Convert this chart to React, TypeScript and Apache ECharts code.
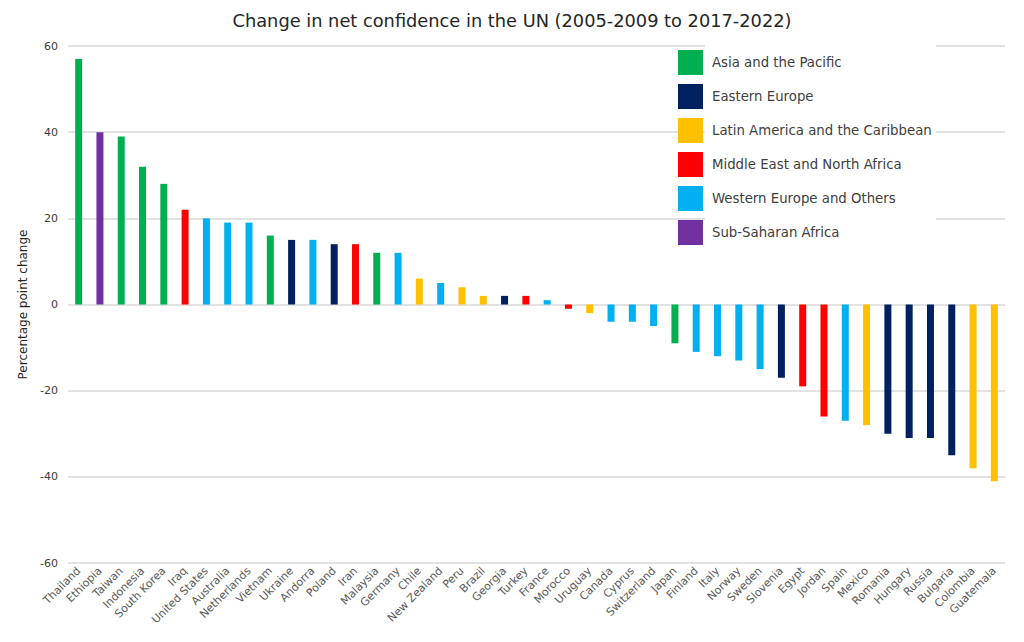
import React, { useEffect, useRef } from "react";
import * as echarts from "echarts";

const countries = [
  "Thailand", "Ethiopia", "Taiwan", "Indonesia", "South Korea", "Iraq", "United States", "Australia",
  "Netherlands", "Vietnam", "Ukraine", "Andorra", "Poland", "Iran", "Malaysia", "Germany", "Chile",
  "New Zealand", "Peru", "Brazil", "Georgia", "Turkey", "France", "Morocco", "Uruguay", "Canada",
  "Cyprus", "Switzerland", "Japan", "Finland", "Italy", "Norway", "Sweden", "Slovenia", "Egypt",
  "Jordan", "Spain", "Mexico", "Romania", "Hungary", "Russia", "Bulgaria", "Colombia", "Guatemala",
];

const values = [
  57, 40, 39, 32, 28, 22, 20, 19, 19, 16, 15, 15, 14, 14, 12, 12, 6, 5, 4, 2, 2, 2, 1, -1, -2, -4,
  -4, -5, -9, -11, -12, -13, -15, -17, -19, -26, -27, -28, -30, -31, -31, -35, -38, -41,
];

// region index per country (index into regions)
const regionOf = [
  0, 5, 0, 0, 0, 3, 4, 4, 4, 0, 1, 4, 1, 3, 0, 4, 2, 4, 2, 2, 1, 3, 4, 3, 2, 4,
  4, 4, 0, 4, 4, 4, 4, 1, 3, 3, 4, 2, 1, 1, 1, 1, 2, 2,
];

const regions = [
  "Asia and the Pacific",
  "Eastern Europe",
  "Latin America and the Caribbean",
  "Middle East and North Africa",
  "Western Europe and Others",
  "Sub-Saharan Africa",
];

const regionColors = ["#00b050", "#002060", "#ffc000", "#ff0000", "#00b0f0", "#7030a0"];

const yTicks = { min: -60, max: 60, interval: 20 };

const FONT = "DejaVu Sans";

export default function App() {
  const ref = useRef<HTMLDivElement>(null);
  useEffect(() => {
    if (!ref.current) return;
    const chart = echarts.init(ref.current, null, { renderer: "svg" });
    const series = regions.map((r, ri) => ({
      name: r,
      type: "bar",
      stack: "all",
      barWidth: 7,
      itemStyle: { color: regionColors[ri] },
      data: values.map((v, i) => (regionOf[i] === ri ? v : "-")),
    }));
    chart.setOption({
      animation: false,
      backgroundColor: "#ffffff",
      textStyle: { fontFamily: FONT },
      title: {
        text: "Change in net confidence in the UN (2005-2009 to 2017-2022)",
        left: "center",
        top: 6,
        textStyle: { fontFamily: FONT, fontSize: 17.8, fontWeight: "normal", color: "#262626" },
      },
      graphic: [
        {
          type: "rect",
          z: 1,
          shape: { x: 705, y: 40, width: 231, height: 212 },
          style: { fill: "#ffffff" },
        },
      ],
      legend: {
        orient: "vertical",
        left: 678,
        top: 50,
        icon: "rect",
        itemWidth: 25,
        itemHeight: 25,
        itemGap: 9,
        padding: 0,
        z: 5,
        textStyle: { fontFamily: FONT, fontSize: 13.3, color: "#404040", padding: [0, 0, 0, 4] },
        data: regions,
      },
      grid: { left: 68, right: 19, top: 46, bottom: 79 },
      xAxis: {
        type: "category",
        data: countries,
        axisLine: { show: false, onZero: false },
        axisTick: { show: false },
        axisLabel: {
          rotate: 45,
          interval: 0,
          fontSize: 11,
          color: "#595959",
          fontFamily: FONT,
          margin: 6,
        },
      },
      yAxis: {
        type: "value",
        min: yTicks.min,
        max: yTicks.max,
        interval: yTicks.interval,
        name: "Percentage point change",
        nameLocation: "middle",
        nameGap: 28,
        nameTextStyle: { fontFamily: FONT, fontSize: 12, color: "#262626" },
        axisLine: { show: false },
        axisTick: { show: false },
        axisLabel: { fontSize: 11, color: "#404040", fontFamily: FONT, margin: 10 },
        splitLine: { lineStyle: { color: "#d9d9d9", width: 1.5 } },
      },
      series,
    });
    return () => chart.dispose();
  }, []);
  return (
    <div
      ref={ref}
      style={{ position: "absolute", left: 0, top: 0, width: 1024, height: 642 }}
    />
  );
}
